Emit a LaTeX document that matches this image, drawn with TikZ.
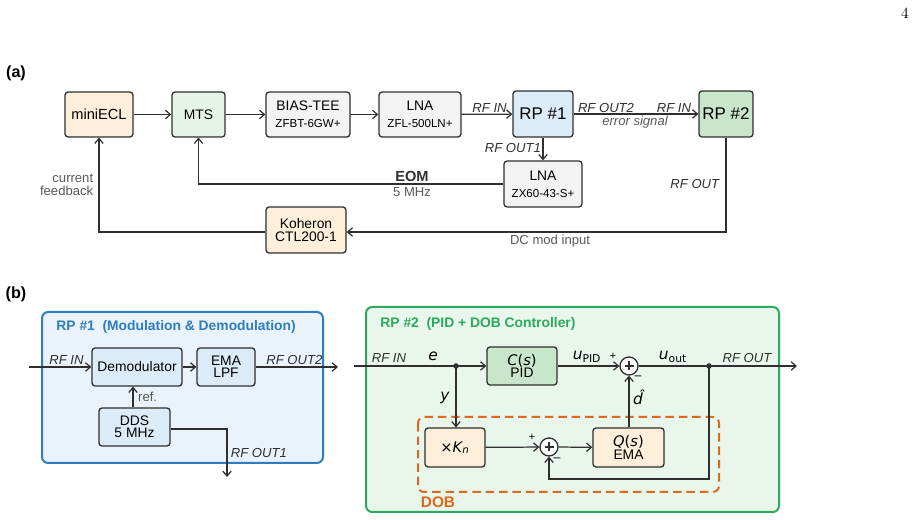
\documentclass[tikz,border=0pt]{standalone}
\usepackage{fontspec}
\setmainfont{Liberation Sans}
\newfontfamily\dvs{DejaVu Sans}
\newfontfamily\lmr{Latin Modern Roman}
\usepackage{xcolor}
\usetikzlibrary{arrows.meta,positioning,calc}
\tikzset{>={Straight Barb[length=3.2pt,width=5.5pt]}}
\definecolor{edge}{HTML}{2F2F2F}
\definecolor{txtgray}{HTML}{595959}
\definecolor{fillorange}{HTML}{FDEFDA}
\definecolor{fillmint}{HTML}{E5F4E6}
\definecolor{fillgray}{HTML}{F3F3F3}
\definecolor{fillblue}{HTML}{DCEBF8}
\definecolor{fillgreen}{HTML}{C8E6C9}
\definecolor{rpblue}{HTML}{2E7EBF}
\definecolor{rpbluebg}{HTML}{EAF2FB}
\definecolor{rpgreen}{HTML}{2BAA5E}
\definecolor{rpgreenbg}{HTML}{E8F6EC}
\definecolor{dobor}{HTML}{DD6A1C}
\newcommand{\mv}[1]{{\dvs\itshape #1}}
\newcommand{\fs}[1]{\fontsize{#1}{#1}\selectfont}

\begin{document}
\begin{tikzpicture}[x=0.65pt,y=-0.65pt,
    blk/.style={draw=edge, line width=0.85pt, rounded corners=2pt, align=center, inner sep=0pt},
    sig/.style={draw=edge, line width=0.8pt},
    lbl/.style={font=\fs{8.5}\itshape, text=edge, inner sep=1pt},
    note/.style={font=\fs{8.5}, text=txtgray, inner sep=1pt},
    sumnode/.style={draw=edge, line width=0.85pt, circle, minimum size=11.7pt, inner sep=0pt},
    dot/.style={circle, fill=edge, minimum size=3.6pt, inner sep=0pt}]
  \useasboundingbox (0,0) rectangle (917,520);
  \node[font=\lmr\fs{10}] (pagenum) at (905,13) {4};

  % (a) optical / RF chain
  \node[font=\bfseries\fs{10.5}] (taga) at (16,73) {(a)};
  \node[blk, fill=fillorange, minimum width=44.2pt, minimum height=29.2pt, font=\fs{9.5}] (ecl) at (99,114.5) {miniECL};
  \node[blk, fill=fillmint, minimum width=34.5pt, minimum height=29.2pt, font=\fs{9}] (mts) at (198.5,114.5) {MTS};
  \node[blk, fill=fillgray, minimum width=54.6pt, minimum height=29.2pt] (bias) at (308,114.5)
    {{\fs{9}BIAS-TEE}\\[-1pt]{\fs{7.5}ZFBT-6GW+}};
  \node[blk, fill=fillgray, minimum width=53.3pt, minimum height=29.2pt] (lnaa) at (420,114.5)
    {{\fs{9}LNA}\\[-1pt]{\fs{7.5}ZFL-500LN+}};
  \node[blk, fill=fillblue, minimum width=39pt, minimum height=29.9pt, font=\fs{11}] (rpa) at (543,114) {RP \#1};
  \node[blk, fill=fillgreen, minimum width=35.1pt, minimum height=29.9pt, font=\fs{11}] (rpb) at (726,114) {RP \#2};
  \node[blk, fill=fillgray, minimum width=50.7pt, minimum height=29.9pt] (lnab) at (543,184)
    {{\fs{9}LNA}\\[-1pt]{\fs{7.5}ZX60-43-S+}};
  \node[blk, fill=fillorange, minimum width=52pt, minimum height=29.9pt, font=\fs{9}] (koh) at (306,230)
    {Koheron\\[-1pt]CTL200-1};

  \draw[sig,->] (ecl) -- (mts);
  \draw[sig,->] (mts) -- (bias);
  \draw[sig,->] (bias) -- (lnaa);
  \draw[sig,->] (lnaa) -- node[lbl, above, pos=0.55] {RF IN} (rpa);
  \draw[sig,->] (rpa) -- (rpb);
  \node[lbl, above] (out2a) at (606,114) {RF OUT2};
  \node[lbl, above] (inb) at (674,114) {RF IN};
  \node[note, font=\fs{8.5}\itshape] (errsig) at (635,122) {error signal};
  \draw[sig,->] (rpa) -- node[lbl, left, pos=0.45] {RF OUT1} (lnab);
  \draw[sig,->] (lnab.west) -| (mts.south);
  \node[font=\bfseries\fs{9.5}, text=edge] (eom) at (412,176) {EOM};
  \node[note] (eomf) at (412,192) {5 MHz};
  \coordinate (fbcorner) at (726,232);
  \draw[sig,->] (rpb.south) -- (fbcorner) -- (koh.east |- fbcorner);
  \node[lbl, anchor=east] (rfouta) at (721,184) {RF OUT};
  \node[note] (dcmod) at (550,241) {DC mod input};
  \draw[sig,->] (koh.west |- fbcorner) -| (ecl.south);
  \node[note, anchor=east, align=right] (curfb) at (95,185) {current\\[0pt]feedback};

  % (b) firmware of the two Red Pitayas
  \node[font=\bfseries\fs{10.5}] (tagb) at (16,294) {(b)};

  % RP #1
  \draw[rpblue, fill=rpbluebg, line width=1.3pt, rounded corners=4pt] (42,312) rectangle (323,463);
  \node[font=\bfseries\fs{9}, text=rpblue, anchor=west] (titlea) at (51,327) {RP \#1\ \ (Modulation \& Demodulation)};
  \node[blk, fill=fillblue, minimum width=58.5pt, minimum height=24.7pt, font=\fs{9}] (demod) at (137,367) {Demodulator};
  \node[blk, fill=fillblue, minimum width=37.7pt, minimum height=24.7pt, font=\fs{9}] (ema) at (226,367) {EMA\\[-1pt]LPF};
  \node[blk, fill=fillblue, minimum width=46.2pt, minimum height=24.7pt, font=\fs{9}] (dds) at (134.5,427) {DDS\\[-1pt]5 MHz};
  \coordinate (ina) at (29,367);
  \coordinate (outa) at (338,367);
  \coordinate (out1a) at (227,477);
  \draw[sig,->] (ina) -- node[lbl, above, pos=0.6] {RF IN} (demod);
  \draw[sig,->] (demod) -- (ema);
  \draw[sig,->] (ema) -- node[lbl, above, pos=0.47] {RF OUT2} (outa);
  \draw[sig,->] (dds.north -| 133,0) -- node[note, right=2pt] {ref.} (demod.south -| 133,0);
  \draw[sig,->] (dds.east |- 0,429) -| (out1a);
  \node[lbl, anchor=west] (out1lbl) at (229,453) {RF OUT1};

  % RP #2
  \draw[rpgreen, fill=rpgreenbg, line width=1.3pt, rounded corners=4pt] (366,307) rectangle (779,512);
  \node[font=\bfseries\fs{9}, text=rpgreen, anchor=west] (titleb) at (375,324) {RP \#2\ \ (PID + DOB Controller)};
  \draw[dobor, line width=1.3pt, dash pattern=on 5.5pt off 3.2pt, rounded corners=4pt] (418,417) rectangle (719,492);
  \node[font=\bfseries\fs{10}, text=dobor] (doblbl) at (438,502) {DOB};
  \node[blk, fill=fillgreen, minimum width=45.5pt, minimum height=24.7pt, font=\fs{9}] (pid) at (522,366)
    {{\dvs\fs{9.5}\mv{C}(\mv{s})}\\[-1pt]PID};
  \node[sumnode, fill=white] (suma) at (629,366) {};
  \draw[edge, line width=0.8pt] ($(suma)+(-4.5,0)$) -- ($(suma)+(4.5,0)$) ($(suma)+(0,-4.5)$) -- ($(suma)+(0,4.5)$);
  \node[blk, fill=fillorange, minimum width=39pt, minimum height=25.3pt, font=\dvs\fs{9.5}] (gain) at (455,447.5)
    {×\mv{K}\textsubscript{\mv{n}}};
  \node[sumnode, fill=white] (sumb) at (549,447) {};
  \draw[edge, line width=0.8pt] ($(sumb)+(-4.5,0)$) -- ($(sumb)+(4.5,0)$) ($(sumb)+(0,-4.5)$) -- ($(sumb)+(0,4.5)$);
  \node[blk, fill=fillorange, minimum width=46.2pt, minimum height=25.3pt, font=\fs{9}] (qfilt) at (628.5,447.5)
    {{\dvs\fs{9.5}\mv{Q}(\mv{s})}\\[-1pt]EMA};
  \coordinate (jin) at (456,366);
  \coordinate (jout) at (709,366);
  \coordinate (inb2) at (354,366);
  \coordinate (outb) at (797,366);
  \draw[sig] (inb2) -- (jin);
  \draw[sig,->] (jin) -- (pid);
  \draw[sig,->] (pid) -- (suma);
  \draw[sig] (suma) -- (jout);
  \draw[sig,->] (jout) -- (outb);
  \draw[sig,->] (jin) -- (gain.north -| jin);
  \draw[sig,->] (gain) -- (sumb);
  \draw[sig,->] (sumb) -- (qfilt);
  \draw[sig,->] (qfilt.north -| suma) -- (suma);
  \draw[sig,->] (jout) |- (549,479) -- (sumb);
  \node[dot] (jindot) at (jin) {};
  \node[dot] (joutdot) at (jout) {};
  \node[lbl] (rfinb) at (389,358) {RF IN};
  \node[lbl] (rfoutb) at (747,358) {RF OUT};
  \node[font=\fs{10}] (elbl) at (433,356) {\mv{e}};
  \node[font=\fs{10}] (ylbl) at (445,398) {\mv{y}};
  \node[font=\fs{10}] (upid) at (587,357) {\mv{u}\textsubscript{\dvs PID}};
  \node[font=\fs{10}] (uout) at (673,357) {\mv{u}\textsubscript{\dvs out}};
  \node[font=\fs{10}] (dhat) at (638,397) {\mv{\^{d}}};
  \node[font=\fs{7}] (pa) at (613,356) {+};
  \node[font=\fs{8}] (ma) at (638,378) {\textendash};
  \node[font=\fs{7}] (pb) at (532,437) {+};
  \node[font=\fs{8}] (mb) at (557,460) {\textendash};
\end{tikzpicture}
\end{document}
